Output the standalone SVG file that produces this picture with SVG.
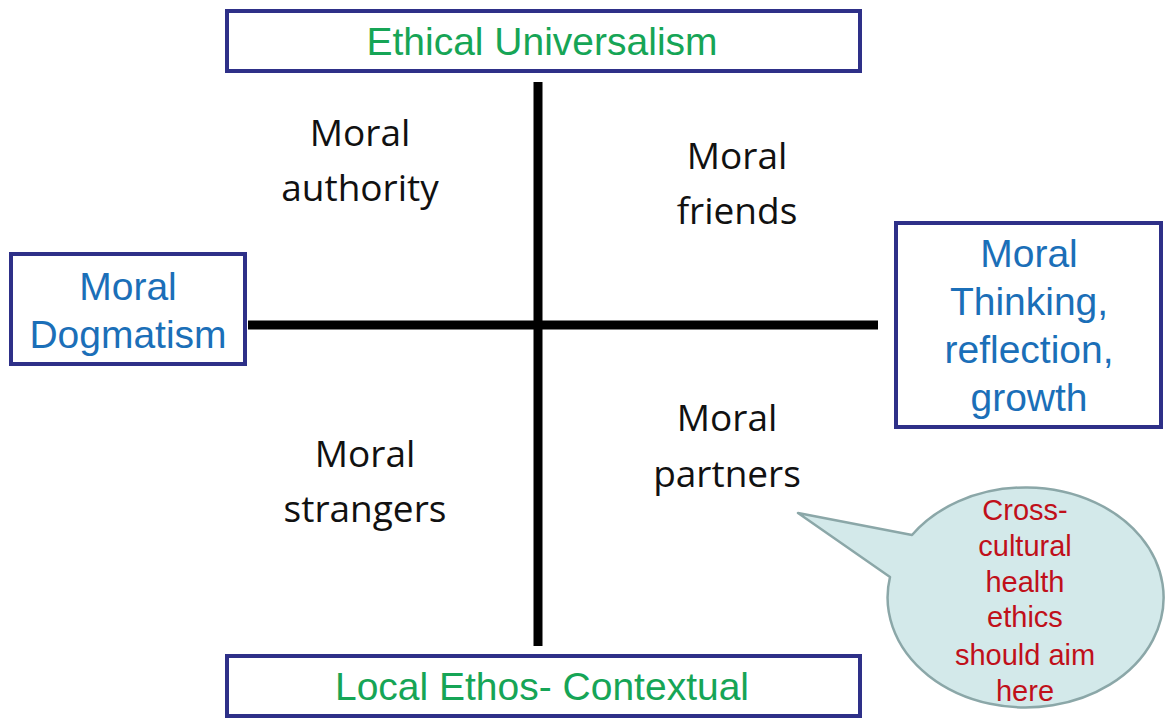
<svg xmlns="http://www.w3.org/2000/svg" width="1168" height="720" viewBox="0 0 1168 720">
<style>
.box{fill:#fff;stroke:#2e3088;stroke-width:4}
.g{font-family:"Liberation Sans",Arial,sans-serif;font-size:39px;fill:#16a556;text-anchor:middle}
.b{font-family:"Liberation Sans",Arial,sans-serif;font-size:39px;fill:#1b6fb8;text-anchor:middle}
.q{font-family:"Open Sans","Noto Sans",sans-serif;font-size:37px;fill:#111;text-anchor:middle}
.r{font-family:"Liberation Sans",Arial,sans-serif;font-size:29px;fill:#c0101a;text-anchor:middle}
.axis{stroke:#000;stroke-width:9;fill:none}
</style>
<rect width="1168" height="720" fill="#fff"/>
<g id="connectors">
<line class="axis" x1="538" y1="82" x2="538" y2="646"/>
<line class="axis" x1="248" y1="325" x2="878" y2="325"/>
</g>
<g id="top">
<rect class="box" x="227" y="11" width="633" height="60"/>
<text class="g" x="542" y="55">Ethical Universalism</text>
</g>
<g id="bottom">
<rect class="box" x="227" y="656" width="633" height="60"/>
<text class="g" x="542" y="700">Local Ethos- Contextual</text>
</g>
<g id="left">
<rect class="box" x="11" y="254" width="234" height="110"/>
<text class="b" x="128" y="300">Moral</text>
<text class="b" x="128" y="348">Dogmatism</text>
</g>
<g id="right">
<rect class="box" x="896" y="223" width="265" height="204"/>
<text class="b" x="1029" y="267">Moral</text>
<text class="b" x="1029" y="315">Thinking,</text>
<text class="b" x="1029" y="363">reflection,</text>
<text class="b" x="1029" y="411">growth</text>
</g>
<g id="authority">
<text class="q" x="360" y="146">Moral</text>
<text class="q" x="360" y="201">authority</text>
</g>
<g id="friends">
<text class="q" x="737" y="169">Moral</text>
<text class="q" x="737" y="224">friends</text>
</g>
<g id="strangers">
<text class="q" x="365" y="467">Moral</text>
<text class="q" x="365" y="522">strangers</text>
</g>
<g id="partners">
<text class="q" x="727" y="431">Moral</text>
<text class="q" x="727" y="487">partners</text>
</g>
<g id="callout">
<path d="M 912 535 A 138 110 0 1 1 890 577 L 798 513 Z" fill="#d3e9ea" stroke="#8ba7a8" stroke-width="2.5" stroke-linejoin="round"/>
<text class="r" x="1025" y="520">Cross-</text>
<text class="r" x="1025" y="556">cultural</text>
<text class="r" x="1025" y="592">health</text>
<text class="r" x="1025" y="627">ethics</text>
<text class="r" x="1025" y="665">should aim</text>
<text class="r" x="1025" y="701">here</text>
</g>
</svg>
